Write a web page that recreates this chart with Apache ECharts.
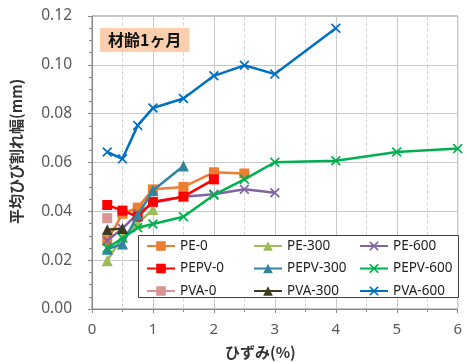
<!DOCTYPE html>
<html><head><meta charset="utf-8">
<script src="https://cdn.jsdelivr.net/npm/echarts@6/dist/echarts.min.js"></script>
<style>html,body{margin:0;padding:0;background:#fff}#c{width:465px;height:363px}</style>
</head><body><div id="c"></div>
<script>
const strain = [0.25, 0.5, 0.75, 1, 1.5, 2, 2.5, 3, 4, 5, 6];
const seriesNames = ['PE-0','PE-300','PE-600','PEPV-0','PEPV-300','PEPV-600','PVA-0','PVA-300','PVA-600'];
const PE_0     = [0.028, 0.039, 0.0415, 0.049, 0.050, 0.056, 0.0555];
const PE_300   = [0.0198, 0.0296, 0.035, 0.0408];
const PE_600   = [0.028, 0.033, 0.039, 0.0435, 0.046, 0.047, 0.049, 0.0476];
const PEPV_0   = [0.0426, 0.0403, 0.0378, 0.0439, 0.046, 0.0531];
const PEPV_300 = [0.0245, 0.0266, 0.0385, 0.0485, 0.0586];
const PEPV_600 = [0.025, 0.029, 0.0333, 0.0348, 0.0378, 0.0467, 0.0531, 0.0601, 0.0607, 0.0643, 0.0657];
const PVA_0    = [0.0372];
const PVA_300  = [0.0325, 0.033];
const PVA_600  = [0.0643, 0.0615, 0.0752, 0.0823, 0.0862, 0.0955, 0.0998, 0.0962, null, 0.115];
const PVA_600_X = [0.25, 0.5, 0.75, 1, 1.5, 2, 2.5, 3, null, 4];
const yTicks = [0, 0.02, 0.04, 0.06, 0.08, 0.10, 0.12];
const xTicks = [0, 1, 2, 3, 4, 5, 6];

const colors = ['#ED7D31','#9BBB59','#8064A2','#FF0000','#31859C','#00B050','#D99594','#3F3A1E','#0070C0'];
const SQ = 'rect', TRI = 'triangle';
const CROSS = 'path://M0,1.2L1.2,0L5,3.8L8.8,0L10,1.2L6.2,5L10,8.8L8.8,10L5,6.2L1.2,10L0,8.8L3.8,5Z';
const symbols = [SQ, TRI, CROSS, SQ, TRI, CROSS, SQ, TRI, CROSS];
const values = [PE_0, PE_300, PE_600, PEPV_0, PEPV_300, PEPV_600, PVA_0, PVA_300, PVA_600];

function pairs(vals, xs) {
  const out = [];
  vals.forEach((v, i) => { const x = xs[i]; if (v != null && x != null) out.push([x, v]); });
  return out;
}

const series = seriesNames.map((n, i) => ({
  name: n, type: 'line',
  data: pairs(values[i], i === 8 ? PVA_600_X : strain),
  symbol: symbols[i],
  symbolSize: symbols[i] === CROSS ? 10 : (symbols[i] === TRI ? 11 : 10),
  showAllSymbol: true,
  lineStyle: { color: colors[i], width: 2.5 },
  itemStyle: { color: colors[i] },
  z: 2 + i * 0.01
}));

const chart = echarts.init(document.getElementById('c'));
const lgText = { fontSize: 13.5, color: '#222', fontFamily: 'Noto Sans, sans-serif' };
function lg(data, left) {
  return { data, orient: 'vertical', left, top: 239, itemWidth: 28, itemHeight: 12,
    itemGap: 8.5, itemTextGap: 4, textStyle: lgText, z: 10, padding: 0 };
}
chart.setOption({
  animation: false,
  grid: { left: 92, top: 16, right: 2, bottom: 54, show: true, borderColor: '#888', borderWidth: 1 },
  title: {
    text: '材齢1ヶ月', left: 100, top: 28,
    backgroundColor: '#FBCFAE', padding: [4, 8, 4, 8],
    textStyle: { fontSize: 16, fontWeight: 'bold', color: '#111', fontFamily: 'Noto Sans CJK JP' }
  },
  legend: [
    lg(['PE-0','PEPV-0','PVA-0'], 146),
    lg(['PE-300','PEPV-300','PVA-300'], 253),
    lg(['PE-600','PEPV-600','PVA-600'], 359)
  ],
  graphic: [
    { type: 'rect', shape: { x: 138.5, y: 235.5, width: 320, height: 62 },
      style: { fill: '#fff', stroke: '#404040', lineWidth: 1 }, z: 8 },
    { type: 'text', left: 225, top: 345,
      style: { text: 'ひずみ(%)', fontSize: 15, fontWeight: 'bold', fill: '#333', fontFamily: 'Noto Sans CJK JP' } },
    { type: 'text', rotation: Math.PI / 2, x: 9, y: 224,
      style: { text: '平均ひび割れ幅(mm)', fontSize: 15, fontWeight: 'bold', fill: '#333', fontFamily: 'Noto Sans CJK JP' } }
  ],
  xAxis: {
    type: 'value', min: xTicks[0], max: xTicks[xTicks.length - 1], interval: 1,
    axisLine: { show: true, lineStyle: { color: '#888' } },
    axisTick: { show: true, length: 4, lineStyle: { color: '#888' } },
    minorTick: { show: true, splitNumber: 2, length: 3, lineStyle: { color: '#888' } },
    splitLine: { show: true, lineStyle: { color: '#c8c8c8' } },
    minorSplitLine: { show: true, lineStyle: { color: '#d9d9d9', type: 'dashed' } },
    axisLabel: { fontSize: 15, color: '#595959', margin: 13, fontFamily: 'Noto Sans, sans-serif' }
  },
  yAxis: {
    type: 'value', min: yTicks[0], max: yTicks[yTicks.length - 1], interval: 0.02,
    axisLine: { show: true, lineStyle: { color: '#888' } },
    axisTick: { show: true, length: 4, lineStyle: { color: '#888' } },
    minorTick: { show: true, splitNumber: 4, length: 3, lineStyle: { color: '#888' } },
    splitLine: { show: true, lineStyle: { color: '#c8c8c8' } },
    axisLabel: { fontSize: 15.5, color: '#595959', margin: 20, fontFamily: 'Noto Sans, sans-serif',
      formatter: v => v.toFixed(2) }
  },
  series
});
</script></body></html>
